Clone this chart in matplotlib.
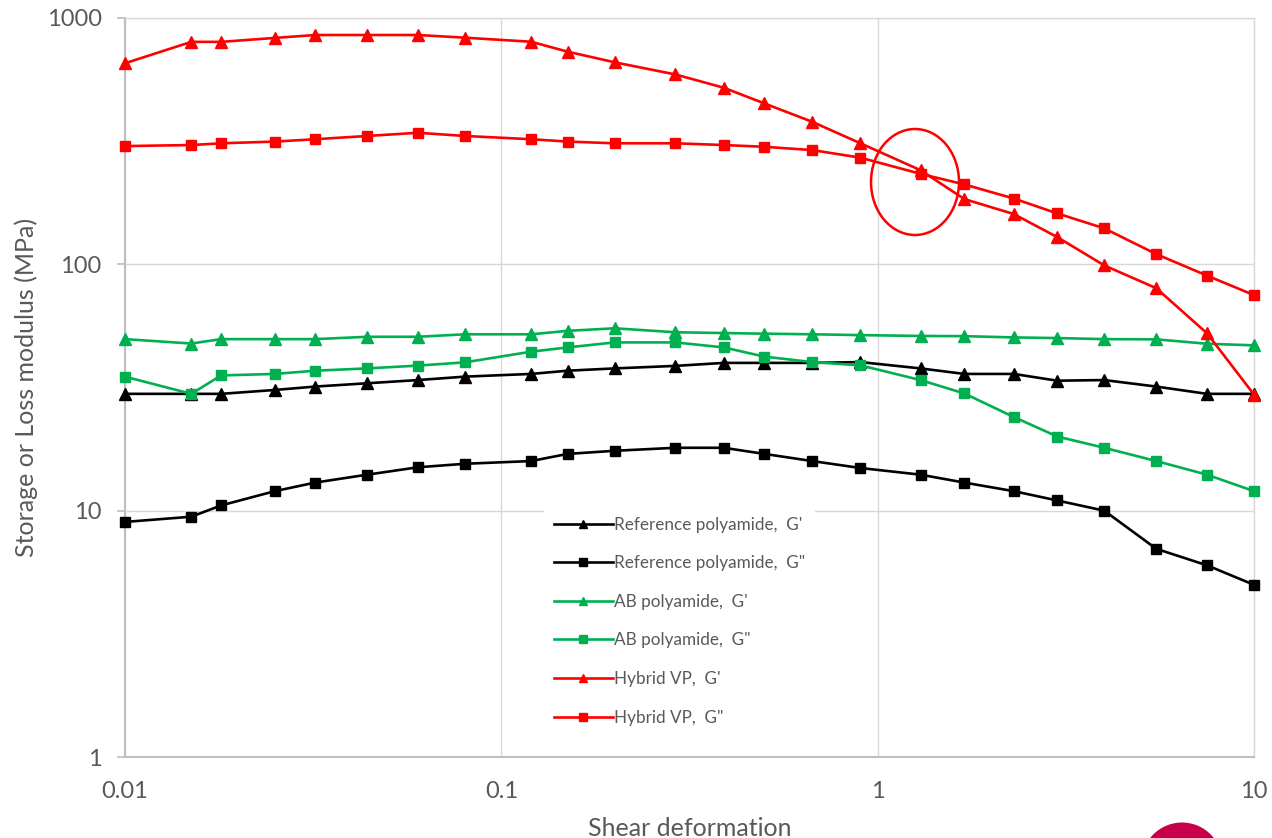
import matplotlib
matplotlib.use("Agg")
import matplotlib.pyplot as plt
from matplotlib.patches import Ellipse

# ---------------- data ----------------
strain = [0.01, 0.015, 0.018, 0.025, 0.032, 0.044, 0.06, 0.08, 0.12, 0.15,
          0.2, 0.29, 0.39, 0.5, 0.67, 0.9, 1.3, 1.7, 2.3, 3.0, 4.0, 5.5,
          7.5, 10.0]

ref_g1 = [29.8, 29.8, 29.8, 30.9, 31.9, 32.9, 33.9, 35.0, 35.9, 37.0, 37.8,
          38.7, 39.8, 39.8, 39.8, 40.1, 37.8, 35.9, 35.9, 33.7, 33.9, 31.9,
          29.8, 29.8]
ref_g2 = [9.0, 9.45, 10.5, 12.0, 13.0, 14.0, 15.0, 15.5, 15.9, 17.0, 17.5,
          18.0, 18.0, 17.0, 15.9, 14.9, 14.0, 13.0, 12.0, 11.0, 10.0, 7.0,
          6.0, 5.0]
ab_g1 = [49.7, 47.7, 49.7, 49.7, 49.7, 50.8, 50.8, 52.0, 52.0, 53.7, 55.0,
         53.0, 52.6, 52.3, 52.0, 51.6, 51.2, 51.1, 50.5, 50.2, 49.7, 49.6,
         47.6, 46.9]
ab_g2 = [35.0, 29.8, 35.4, 35.9, 37.0, 37.8, 38.8, 40.0, 44.2, 46.0, 48.2,
         48.2, 46.0, 42.2, 40.1, 38.9, 33.9, 29.9, 24.0, 20.0, 18.0, 15.9,
         14.0, 12.0]
hyb_g1 = [655, 800, 800, 830, 853, 853, 853, 832, 801, 730, 661, 590, 521,
          450, 379, 310, 241, 184, 160, 129, 99, 80, 52.5, 29.6]
hyb_g2 = [302, 305, 310, 315, 322, 332, 342, 332, 322, 315, 310, 310, 305,
          300, 291, 271, 233, 211, 185, 161, 140, 110, 90, 75]

labels = ["Reference polyamide,  G'", 'Reference polyamide,  G"',
          "AB polyamide,  G'", 'AB polyamide,  G"',
          "Hybrid VP,  G'", 'Hybrid VP,  G"']
series = [ref_g1, ref_g2, ab_g1, ab_g2, hyb_g1, hyb_g2]
colors = ["#000000", "#000000", "#00B050", "#00B050", "#FF0000", "#FF0000"]
markers = ["^", "s", "^", "s", "^", "s"]

x_ticks = [0.01, 0.1, 1, 10]
x_ticklabels = ["0.01", "0.1", "1", "10"]
y_ticks = [1, 10, 100, 1000]
y_ticklabels = ["1", "10", "100", "1000"]

# ---------------- figure ----------------
plt.rcParams['font.family'] = ['Lato', 'DejaVu Sans']
W, H = 1272, 838
fig = plt.figure(figsize=(W / 100, H / 100), dpi=100)
L, R, T, B = 125, 1254, 18, 757
ax = fig.add_axes([L / W, (H - B) / H, (R - L) / W, (B - T) / H])

ax.set_xscale("log")
ax.set_yscale("log")
ax.set_xlim(0.01, 10)
ax.set_ylim(1, 1000)

for y, lab, c, m in zip(series, labels, colors, markers):
    ax.plot(strain, y, color=c, lw=1.9, marker=m,
            markersize=7.5 if m == "s" else 8, label=lab, zorder=3,
            clip_on=False)

ax.set_xticks(x_ticks)
ax.set_xticklabels(x_ticklabels)
ax.set_yticks(y_ticks)
ax.set_yticklabels(y_ticklabels)
ax.minorticks_off()

grid_c = "#D9D9D9"
ax.grid(True, which="major", color=grid_c, lw=1.0, zorder=0)
ax.set_axisbelow(True)
for s in ["top", "right"]:
    ax.spines[s].set_color(grid_c)
    ax.spines[s].set_linewidth(1.0)
for s in ["left", "bottom"]:
    ax.spines[s].set_color("#BFBFBF")
    ax.spines[s].set_linewidth(1.5)

ax.tick_params(axis="y", which="major", length=5.8, width=1.2,
               color="#BFBFBF", labelsize=17, labelcolor="#595959", pad=11)
ax.tick_params(axis="x", which="major", length=0, labelsize=17,
               labelcolor="#595959", pad=17)

ax.set_xlabel("Shear deformation", fontsize=18, color="#595959",
              labelpad=11)
ax.set_ylabel("Storage or Loss modulus (MPa)", fontsize=18,
              color="#595959", labelpad=6)

leg = ax.legend(loc="upper left", bbox_to_anchor=((535 - L) / (R - L),
                                                  (B - 498) / (B - T)),
                frameon=True, fancybox=False, fontsize=12.3,
                labelspacing=1.32, handlelength=3.45, handletextpad=0.05,
                borderpad=0.6, markerscale=0.75)
leg.get_frame().set_facecolor("white")
leg.get_frame().set_edgecolor("none")
leg.get_frame().set_alpha(1.0)
for t in leg.get_texts():
    t.set_color("#595959")
leg.set_zorder(4)

# highlight ellipse around the crossover
ell = Ellipse(((915 - L) / (R - L), (B - 182) / (B - T)),
              88 / (R - L), 106 / (B - T), transform=ax.transAxes,
              fill=False, edgecolor="#FF0000", lw=1.8, zorder=5)
ax.add_patch(ell)

# partial logo circle at the bottom right
logo = Ellipse((1182 / W, (H - 863) / H), 81 / W, 81 / H,
               transform=fig.transFigure, facecolor="#C8004B",
               edgecolor="none")
fig.patches.append(logo)

fig.savefig("out.png", dpi=100)
